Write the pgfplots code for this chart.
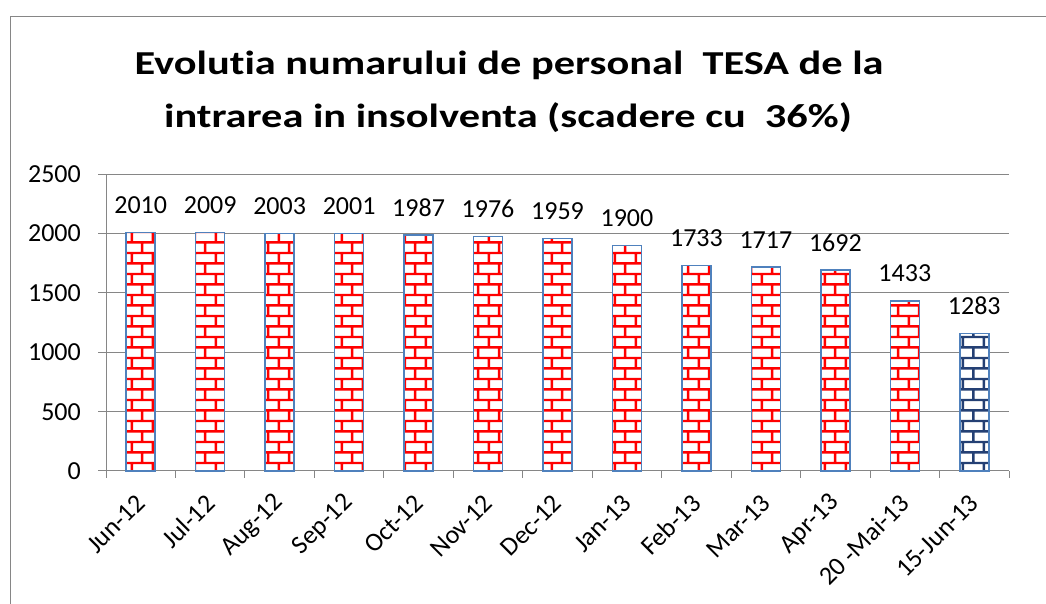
\documentclass[border=0pt]{standalone}
\usepackage{pgfplots}
\usepackage{pgfplotstable}
\pgfplotsset{compat=1.18}
\usepackage{fontspec}
\setmainfont{Carlito}[Ligatures=NoCommon]
\usetikzlibrary{patterns}

\pgfdeclarepatternformonly{xlbricks}{\pgfpointorigin}{\pgfpoint{21.3pt}{21.4pt}}{\pgfpoint{21.3pt}{21.4pt}}{
  \pgfsetlinewidth{2.5pt}
  \pgfpathmoveto{\pgfpoint{-1pt}{2.675pt}}\pgfpathlineto{\pgfpoint{22.3pt}{2.675pt}}
  \pgfpathmoveto{\pgfpoint{-1pt}{13.375pt}}\pgfpathlineto{\pgfpoint{22.3pt}{13.375pt}}
  \pgfpathmoveto{\pgfpoint{5pt}{2.675pt}}\pgfpathlineto{\pgfpoint{5pt}{13.375pt}}
  \pgfpathmoveto{\pgfpoint{15.65pt}{13.375pt}}\pgfpathlineto{\pgfpoint{15.65pt}{22.4pt}}
  \pgfpathmoveto{\pgfpoint{15.65pt}{-1pt}}\pgfpathlineto{\pgfpoint{15.65pt}{2.675pt}}
  \pgfusepath{stroke}
}

\definecolor{gridgray}{RGB}{134,134,134}
\definecolor{barline}{RGB}{79,129,189}
\definecolor{brickred}{RGB}{255,0,0}
\definecolor{brickblue}{RGB}{36,64,116}

\pgfplotstableread{
x y lab
0 2010 2010
1 2009 2009
2 2003 2003
3 2001 2001
4 1987 1987
5 1976 1976
6 1959 1959
7 1900 1900
8 1733 1733
9 1717 1717
10 1692 1692
11 1433 1433
}\datared

\pgfplotstableread{
x y lab
12 1160 1283
}\datablue

\begin{document}
\begin{tikzpicture}
\useasboundingbox (0,0) rectangle (1046pt,604pt);
\draw[gridgray, line width=1.3pt] (10.5pt,-5pt) -- (10.5pt,587.5pt) -- (1060pt,587.5pt);
\node[anchor=base, xscale=1.265, font=\fontsize{33.5}{40}\selectfont\bfseries, inner sep=0pt] at (509pt,529pt) {Evolutia numarului de personal~~TESA de la};
\node[anchor=base, xscale=1.265, font=\fontsize{33.5}{40}\selectfont\bfseries, inner sep=0pt] at (508pt,476pt) {intrarea in insolventa (scadere cu~~36\%)};
\begin{axis}[
  at={(106pt,133pt)}, anchor=south west,
  scale only axis, width=903pt, height=296.7pt,
  xmin=-0.5, xmax=12.5, ymin=0, ymax=2500,
  ytick={0,500,...,2500},
  xtick={0,...,12},
  xticklabels={Jun-12,Jul-12,Aug-12,Sep-12,Oct-12,Nov-12,Dec-12,Jan-13,Feb-13,Mar-13,Apr-13,20 -Mai-13,15-Jun-13},
  minor xtick={-0.5,0.5,...,12.5},
  ymajorgrids, grid style={gridgray, line width=1pt},
  axis x line*=bottom, axis y line*=left,
  axis line style={gridgray, line width=1pt, -},
  tick align=outside,
  major tick length=8pt, minor tick length=7pt,
  major x tick style={draw=none},
  ytick style={gridgray, line width=1pt},
  minor x tick style={gridgray, line width=1pt},
  /pgf/number format/assume math mode=true,
  /pgf/number format/set thousands separator={},
  ticklabel style={font=\fontsize{26}{31}\selectfont},
  yticklabel style={anchor=east, inner sep=0pt, xshift=-17pt},
  xticklabel style={yshift=-20pt, rotate=45, anchor=east, inner sep=0pt},
  ybar, bar width=29pt, bar shift=0pt,
  nodes near coords, point meta=explicit symbolic,
  nodes near coords style={font=\fontsize{26}{31}\selectfont, anchor=base, inner sep=0pt, yshift=19pt},
  clip=false,
]
\addplot[draw=barline, line width=1.5pt, fill=white, postaction={pattern=xlbricks, pattern color=brickred}] table[x=x, y=y, meta=lab] {\datared};
\addplot[draw=barline, line width=1.5pt, fill=white, postaction={pattern=xlbricks, pattern color=brickblue}] table[x=x, y=y, meta=lab] {\datablue};
\end{axis}
\end{tikzpicture}
\end{document}
